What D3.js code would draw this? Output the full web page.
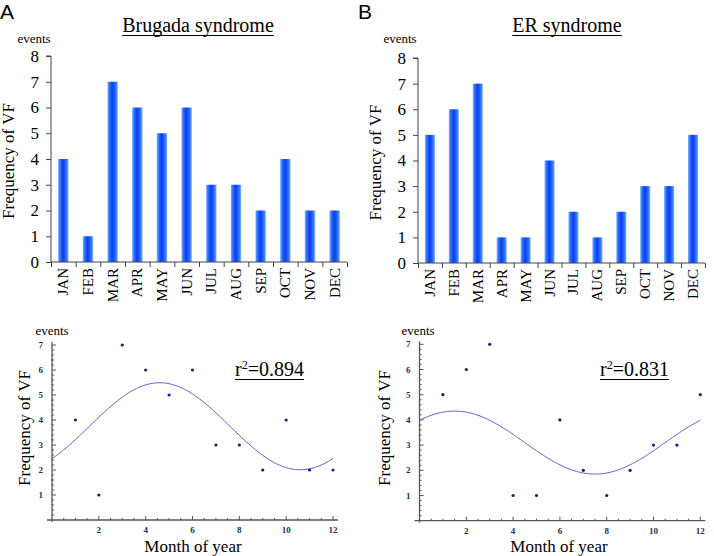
<!DOCTYPE html>
<html><head><meta charset="utf-8">
<script src="https://cdn.jsdelivr.net/npm/d3@7"></script>
<style>
html,body{margin:0;padding:0;background:#fff;}
svg{display:block;}
</style></head>
<body>
<svg id="c" width="714" height="556"></svg>
<script>
// ---- data ----
const months = ["JAN","FEB","MAR","APR","MAY","JUN","JUL","AUG","SEP","OCT","NOV","DEC"];
const monthNums = [1,2,3,4,5,6,7,8,9,10,11,12];
const brugadaEvents = [4,1,7,6,5,6,3,3,2,4,2,2];
const erEvents = [5,6,7,1,1,4,2,1,2,3,3,5];
const barYTicks = [0,1,2,3,4,5,6,7,8];
const scatterYTicks = [1,2,3,4,5,6,7];
const scatterXTicks = [2,4,6,8,10,12];
// sine fit parameters: [mean, amplitude, peak month]
const brugadaFit = [3.75, 1.74, 4.6];
const erFit = [3.1, 1.25, 1.5];
const brugadaR2 = "0.894";
const erR2 = "0.831";

const SERIF = "'Liberation Serif', 'Times New Roman', serif";
const SANS = "'Liberation Sans', Arial, sans-serif";

const svg = d3.select("#c");
const defs = svg.append("defs");
const grad = defs.append("linearGradient").attr("id","barGrad").attr("x1","0").attr("x2","1").attr("y1","0").attr("y2","0");
[["0%","#7fb2ff"],["18%","#2f74ff"],["45%","#0b3ef2"],["62%","#1850ff"],["85%","#3c7eff"],["100%","#8cbaff"]]
  .forEach(([o,c])=>grad.append("stop").attr("offset",o).attr("stop-color",c));

function txt(g, size){
  return g.append("text").attr("fill","#000").style("font-family",SERIF).style("font-size",size+"px");
}

function barChart(opt){
  const g = svg.append("g");
  const y = d3.scaleLinear().domain([0,8]).range([opt.y0,opt.y8]);
  const xb = d3.scaleBand().domain(months).range([opt.xl,opt.xr]).padding(0);
  const xi = d3.scaleLinear().domain([0,12]).range([opt.xl,opt.xr]);
  const bw = xb.bandwidth();
  // bars
  g.selectAll("rect.bar").data(opt.values).join("rect")
    .attr("x",(d,i)=>xb(months[i])+bw*0.29)
    .attr("width",bw*0.42)
    .attr("y",d=>y(d))
    .attr("height",d=>y(0)-y(d))
    .attr("fill","url(#barGrad)");
  // y axis
  const ya = g.append("g").attr("transform",`translate(${opt.xl},0)`)
    .call(d3.axisLeft(y).tickValues(barYTicks).tickSize(5).tickPadding(7).tickFormat(d3.format("d")));
  ya.select(".domain").attr("stroke","#444").attr("d",`M-5,${y(8)}H0V${y(0)}`);
  ya.selectAll(".tick line").attr("stroke","#444");
  ya.selectAll("text").style("font-family",SERIF).style("font-size","17px").attr("fill","#000");
  // x axis
  const xa = g.append("g").attr("transform",`translate(0,${opt.y0})`)
    .call(d3.axisBottom(xi).tickValues(d3.range(0,13)).tickSize(5).tickFormat(""));
  xa.select(".domain").attr("stroke","#444").attr("d",`M${opt.xl},0H${opt.xr}`);
  xa.selectAll(".tick line").attr("stroke","#444");
  // month labels
  g.selectAll("text.m").data(months).join("text")
    .attr("transform",d=>`translate(${xb(d)+bw/2+5},${opt.y0+6}) rotate(-90)`)
    .attr("text-anchor","end").attr("fill","#000")
    .style("font-family",SERIF).style("font-size","15px")
    .text(d=>d);
  // title
  const t = txt(g,20).attr("x",opt.titleX).attr("y",32).attr("text-anchor","middle").text(opt.title);
  const tb = t.node().getBBox();
  g.append("line").attr("x1",tb.x).attr("x2",tb.x+tb.width).attr("y1",35.5).attr("y2",35.5).attr("stroke","#000").attr("stroke-width",1);
  // events label
  txt(g,13).attr("x",opt.evX).attr("y",43).attr("text-anchor","middle").text("events");
  // y title
  txt(g,17).attr("transform",`translate(${opt.ytX},${(opt.y0+opt.y8)/2+2}) rotate(-90)`)
    .attr("text-anchor","middle").text("Frequency of VF");
  // panel letter
  g.append("text").attr("x",opt.letterX).attr("y",19).attr("fill","#000")
    .style("font-family",SANS).style("font-size","21px").text(opt.letter);
}

barChart({values:brugadaEvents,xl:51,xr:347,y0:262,y8:56,title:"Brugada syndrome",titleX:198,evX:34,ytX:14,letter:"A",letterX:0});
barChart({values:erEvents,xl:418,xr:705,y0:263,y8:58,title:"ER syndrome",titleX:567,evX:400,ytX:381,letter:"B",letterX:358});

function scatter(opt){
  const g = svg.append("g");
  const x = d3.scaleLinear().domain([0,12]).range([opt.x0,opt.x12]);
  const y = d3.scaleLinear().domain([0,7]).range([opt.y0,opt.y7]);
  const axCol = "#555";
  const lblCol = "#26305a";
  // x axis
  g.append("line").attr("x1",x(0)-5).attr("x2",x(12)+5).attr("y1",y(0)).attr("y2",y(0)).attr("stroke",axCol).attr("stroke-width",1.3);
  const xMinor = d3.range(0.5,12.01,0.5);
  g.selectAll("line.xt").data(xMinor).join("line")
    .attr("x1",d=>x(d)).attr("x2",d=>x(d)).attr("y1",y(0))
    .attr("y2",d=>y(0)-(d%2===0?4:2)).attr("stroke",axCol);
  g.selectAll("text.xl").data(scatterXTicks).join("text")
    .attr("x",d=>x(d)).attr("y",y(0)+13).attr("text-anchor","middle")
    .style("font-family",SERIF).style("font-size","9px").style("font-weight","bold").attr("fill",lblCol).text(d=>d);
  // y axis
  g.append("line").attr("x1",x(0)).attr("x2",x(0)).attr("y1",y(7)-3).attr("y2",y(0)+2).attr("stroke",axCol).attr("stroke-width",1.3);
  const yMinor = d3.range(1,36).map(i=>i/5);
  g.selectAll("line.yt").data(yMinor).join("line")
    .attr("x1",x(0)).attr("y1",d=>y(d)).attr("y2",d=>y(d))
    .attr("x2",d=>x(0)+(Math.abs(d-Math.round(d))<1e-6?4:2)).attr("stroke",axCol);
  g.selectAll("text.yl").data(scatterYTicks).join("text")
    .attr("x",x(0)-9).attr("y",d=>y(d)+3).attr("text-anchor","end")
    .style("font-family",SERIF).style("font-size","9px").style("font-weight","bold").attr("fill",lblCol).text(d=>d);
  // fit curve
  const [m,a,p] = opt.fit;
  const samples = d3.range(0,12.001,0.1);
  g.append("path").datum(samples)
    .attr("d",d3.line().x(d=>x(d)).y(d=>y(m+a*Math.cos(2*Math.PI*(d-p)/12))))
    .attr("fill","none").attr("stroke","#6a5fc9").attr("stroke-width",1);
  // points
  g.selectAll("circle").data(opt.values).join("circle")
    .attr("cx",(d,i)=>x(monthNums[i])).attr("cy",d=>y(d)).attr("r",1.6).attr("fill","#1c1a7a");
  // r2
  const t = txt(g,20).attr("x",opt.r2X).attr("y",376);
  t.append("tspan").text("r");
  t.append("tspan").attr("dy",-7).style("font-size","12px").text("2");
  t.append("tspan").attr("dy",7).text("="+opt.r2);
  const tb = t.node().getBBox();
  g.append("line").attr("x1",tb.x).attr("x2",tb.x+tb.width).attr("y1",379.5).attr("y2",379.5).attr("stroke","#000");
  // labels
  txt(g,13).attr("x",opt.evX).attr("y",335).attr("text-anchor","middle").text("events");
  txt(g,17).attr("transform",`translate(${opt.ytX},428) rotate(-90)`).attr("text-anchor","middle").text("Frequency of VF");
  txt(g,17).attr("x",opt.xtX).attr("y",552).attr("text-anchor","middle").text("Month of year");
}

scatter({values:brugadaEvents,fit:brugadaFit,r2:brugadaR2,x0:52,x12:333,y0:520,y7:345,r2X:235,evX:52,ytX:30,xtX:193});
scatter({values:erEvents,fit:erFit,r2:erR2,x0:419.5,x12:700.3,y0:520.7,y7:344.3,r2X:600,evX:418,ytX:390,xtX:559});
</script>
</body></html>
